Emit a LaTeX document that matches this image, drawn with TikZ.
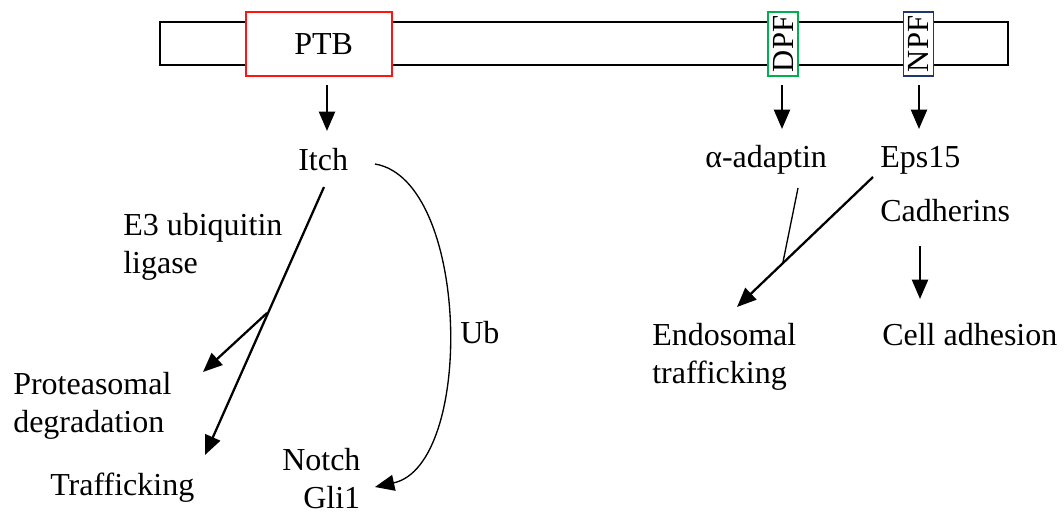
\documentclass[tikz,border=0pt]{standalone}
\usepackage{fontspec}
\setmainfont{Liberation Serif}
\usetikzlibrary{arrows.meta}
\definecolor{ptbred}{RGB}{255,20,20}
\definecolor{dpfgreen}{RGB}{0,176,80}
\definecolor{npfblue}{RGB}{30,55,110}
\begin{document}
\begin{tikzpicture}[x=0.75pt,y=-0.75pt,
  lbl/.style={font=\fontsize{24}{28.5}\selectfont, inner sep=0pt, align=left, anchor=base west},
  arr/.style={line width=1.7pt, -{Triangle[length=14.5pt,width=12pt]}},
  thinline/.style={line width=1pt},
  dombox/.style={draw, line width=1.4pt, fill=white, inner sep=0pt},
  vdombox/.style={dombox, rotate=90, minimum width=48pt, minimum height=22.5pt, font=\fontsize{23}{24}\selectfont}]
\useasboundingbox (0,0) rectangle (1064,525);

% protein bar and domains
\node[dombox, minimum width=636pt, minimum height=32.25pt] (bar) at (584,43.5) {};
\node[dombox, draw=ptbred, minimum width=109.5pt, minimum height=48pt, font=\fontsize{24}{28}\selectfont] (ptb) at (319,44) {\hspace*{7pt}PTB};
\node[vdombox, draw=dpfgreen] (dpf) at (783,44) {DPF};
\node[vdombox, draw=npfblue] (npf) at (918.5,44) {NPF};

% labels (multi-line nodes are placed by the baseline of their last line)
\node[lbl] (itch) at (298,170) {Itch};
\node[lbl] (e3) at (123,273) {E3 ubiquitin\\ligase};
\node[lbl] (prot) at (13,432) {Proteasomal\\degradation};
\node[lbl] (traf) at (50,495) {Trafficking};
\node[lbl] (notch) at (282,470) {Notch};
\node[lbl] (gli) at (303,508) {Gli1};
\node[lbl] (ub) at (460,343) {Ub};
\node[lbl] (alpha) at (705,167) {α-adaptin};
\node[lbl] (eps) at (880,167) {Eps15};
\node[lbl] (cad) at (880,221) {Cadherins};
\node[lbl] (endo) at (652,383) {Endosomal\\trafficking};
\node[lbl] (cell) at (882,345) {Cell adhesion};

% connector end points
\coordinate (p1) at (327,85);  \coordinate (p2) at (327,131);
\coordinate (d1) at (782,85);  \coordinate (d2) at (782,129);
\coordinate (n1) at (919,85);  \coordinate (n2) at (919,129);
\coordinate (i1) at (324,187); \coordinate (i2) at (205,455);
\coordinate (br) at (267,313); \coordinate (br2) at (203,372);
\coordinate (u1) at (375,164); \coordinate (u2) at (375,487);
\coordinate (e1) at (873,177); \coordinate (e2) at (737,307);
\coordinate (al1) at (798,188); \coordinate (al2) at (783,262);
\coordinate (c1) at (920,246); \coordinate (c2) at (920,299);

% connectors
\draw[arr] (p1) -- (p2);
\draw[arr] (d1) -- (d2);
\draw[arr] (n1) -- (n2);
\draw[arr] (i1) -- (i2);
\draw[arr] (br) -- (br2);
\draw[thinline, -{Triangle[length=14.5pt,width=12pt]}] (u1) .. controls (470,180) and (475,465) .. (u2);
\draw[arr] (e1) -- (e2);
\draw[thinline] (al1) -- (al2);
\draw[arr] (c1) -- (c2);
\end{tikzpicture}
\end{document}
